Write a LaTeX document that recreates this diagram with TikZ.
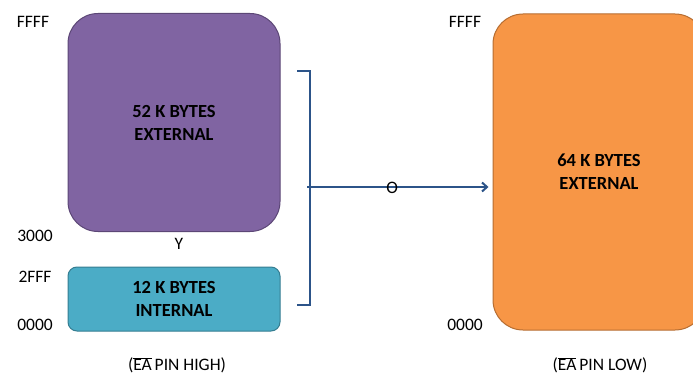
\documentclass[tikz,border=0pt]{standalone}
\usepackage{fontspec}
\setmainfont{Carlito}
\usetikzlibrary{arrows.meta}
\definecolor{purp}{HTML}{8064A2}
\definecolor{purpb}{HTML}{5C4776}
\definecolor{teal1}{HTML}{4BACC6}
\definecolor{tealb}{HTML}{357D91}
\definecolor{oran}{HTML}{F79646}
\definecolor{oranb}{HTML}{B66D31}
\definecolor{navy}{HTML}{2C5489}
\tikzset{
  membox/.style={rounded corners=#1, line width=1pt, align=center, inner sep=0pt,
    font=\fontsize{18.5}{23}\selectfont\bfseries, text=black},
  addr/.style={font=\fontsize{17.5}{20}\selectfont, text=black, inner sep=0pt},
  conn/.style={draw=navy, line width=2.2pt}
}
\newcommand{\eabar}{$\overline{\mbox{EA}}$}
\begin{document}
\begin{tikzpicture}[x=1pt,y=-1pt]
\useasboundingbox (0,0) rectangle (693,374);
% boxes
\node[membox=30pt, fill=purp, draw=purpb, minimum width=212pt, minimum height=218pt] (ext52) at (174,122.5) {52 K BYTES\\EXTERNAL};
\node[membox=9pt, fill=teal1, draw=tealb, minimum width=212pt, minimum height=64pt] (int12) at (174,299) {12 K BYTES\\INTERNAL};
\node[membox=30pt, fill=oran, draw=oranb, minimum width=212pt, minimum height=316pt] (ext64) at (599,172) {64 K BYTES\\EXTERNAL};
% address labels
\node[addr] (lf1) at (33,22) {FFFF};
\node[addr] (l3000) at (35,236) {3000};
\node[addr] (l2fff) at (35,277) {2FFF};
\node[addr] (l0000) at (35,325) {0000};
\node[addr] (ly) at (179,244) {Y};
\node[addr] (rf1) at (465,22) {FFFF};
\node[addr] (r0000) at (465,325) {0000};
\node[addr] (lhigh) at (177,365) {(\eabar\,PIN HIGH)};
\node[addr] (llow) at (600,365) {(\eabar\,PIN LOW)};
% bracket
\coordinate (btop) at (310,71);
\coordinate (bbot) at (310,305);
\coordinate (bmid) at (310,187);
\draw[conn, line cap=butt] (297,71) -- (btop) -- (bbot) -- (297,305);
\draw[conn, line width=1.2pt] (bmid) -- ++(-3,0);
\draw[conn, -{Straight Barb[length=5pt,width=9pt,line width=2pt]}] (bmid) -- ([xshift=-4pt]bmid -| ext64.west) node[pos=0.46, addr, yshift=-1pt] (lo) {O};
\end{tikzpicture}
\end{document}
